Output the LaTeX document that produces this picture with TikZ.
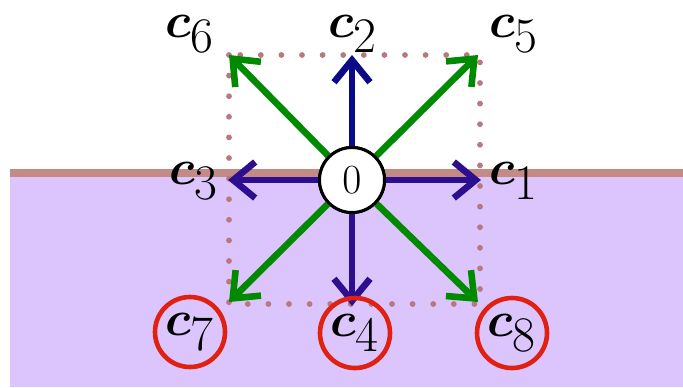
\documentclass[tikz,border=0pt]{standalone}
\usepackage{amsmath,bm}
\usetikzlibrary{arrows.meta}
\definecolor{lav}{HTML}{DCC4FC}
\definecolor{bandc}{HTML}{C48A86}
\definecolor{dotc}{HTML}{B87880}
\definecolor{navyA}{HTML}{0A0A88}
\definecolor{navyB}{HTML}{2C0E8E}
\definecolor{grn}{HTML}{008A00}
\definecolor{redc}{HTML}{E02010}
\tikzset{
  vec/.style={line width=3.3pt,-{Straight Barb[length=11pt,width=18pt]}},
  lbl/.style={inner sep=0pt,font=\fontsize{35}{40}\selectfont},
  ring/.style={circle,draw=redc,line width=2.3pt,minimum size=35pt,inner sep=0pt,font=\fontsize{35}{40}\selectfont},
}
\begin{document}
\begin{tikzpicture}[x=0.5pt,y=-0.5pt]
\useasboundingbox (0,0) rectangle (683,387);
\fill[lav] (10,177) rectangle (683,387);
\draw[bandc,line width=4pt] (10,173) -- (683,173);
\draw[dotc,line width=2.9pt,line cap=round,dash pattern=on 0pt off 10.3pt] (229,55) rectangle (480,304);
\node[circle,draw,line width=1.5pt,fill=white,minimum size=32.5pt,inner sep=0pt] (o) at (352,180) {};
\coordinate (t1) at (481,180);
\coordinate (t2) at (352,55);
\coordinate (t3) at (228,180);
\coordinate (t4) at (352,306);
\coordinate (t5) at (478,55);
\coordinate (t6) at (229,55);
\coordinate (t7) at (229,302);
\coordinate (t8) at (478,302);
\draw[vec,navyB] (o) -- (t1);
\draw[vec,navyA] (o) -- (t2);
\draw[vec,navyB] (o) -- (t3);
\draw[vec,navyB] (o) -- (t4);
\draw[vec,grn] (o) -- (t5);
\draw[vec,grn] (o) -- (t6);
\draw[vec,grn] (o) -- (t7);
\draw[vec,grn] (o) -- (t8);
\node[circle,draw,line width=1.5pt,fill=white,minimum size=32.5pt,inner sep=0pt,font=\fontsize{20}{24}\selectfont] (o2) at (o) {$0$};
\node[lbl] (c6) at (190,34) {$\bm{c}_6$};
\node[lbl] (c2) at (353,34) {$\bm{c}_2$};
\node[lbl] (c5) at (514,34) {$\bm{c}_5$};
\node[lbl] (c3) at (194,181) {$\bm{c}_3$};
\node[lbl] (c1) at (514,181) {$\bm{c}_1$};
\node[ring] (c7) at (190,332) {$\bm{c}_7$};
\node[ring] (c4) at (355,333) {$\bm{c}_4$};
\node[ring] (c8) at (512,333) {$\bm{c}_8$};
\end{tikzpicture}
\end{document}
